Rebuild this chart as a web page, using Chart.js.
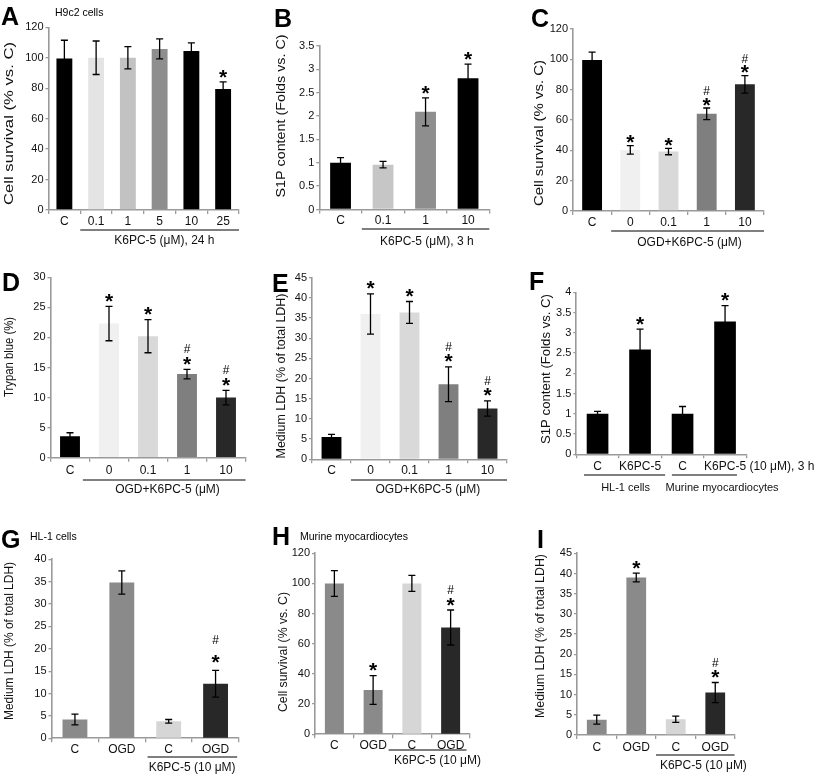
<!DOCTYPE html>
<html><head><meta charset="utf-8">
<script src="https://cdn.jsdelivr.net/npm/chart.js@4.4.1/dist/chart.umd.min.js"></script>
<style>
html,body{margin:0;padding:0;background:#fff;}
#fig{position:relative;width:816px;height:776px;overflow:hidden;background:#fff;font-family:"Liberation Sans",Arial,Helvetica,sans-serif;color:#000;}
#fig canvas{position:absolute;}
.txt{position:absolute;white-space:nowrap;line-height:1;}
</style></head>
<body><div id="fig"></div>
<script>
// ---------- data ----------
const catsA = ['C','0.1','1','5','10','25'];
const meanA = [99.5,100,100,105.8,104.5,79.5];
const errA  = [12,11,7.3,6.6,5.3,4.7];
const starA = [0,0,0,0,0,1];
const hashA = [0,0,0,0,0,0];

const catsB = ['C','0.1','1','10'];
const meanB = [1.0,0.96,2.09,2.81];
const errB  = [0.11,0.07,0.3,0.3];
const starB = [0,0,1,1];
const hashB = [0,0,0,0];

const catsC = ['C','0','0.1','1','10'];
const meanC = [99.5,40.3,39.2,64.1,83.5];
const errC  = [5.3,2.8,2.1,3.8,5.8];
const starC = [0,1,1,1,1];
const hashC = [0,0,0,1,1];

const catsD = ['C','0','0.1','1','10'];
const meanD = [3.55,22.3,20.2,13.9,10.0];
const errD  = [0.6,2.85,2.75,0.8,1.2];
const starD = [0,1,1,1,1];
const hashD = [0,0,0,1,1];

const catsE = ['C','0','0.1','1','10'];
const meanE = [5.5,36.0,36.4,18.6,12.6];
const errE  = [0.7,5.0,2.7,4.3,1.9];
const starE = [0,1,1,1,1];
const hashE = [0,0,0,1,1];

const catsF = ['C','K6PC-5','C','K6PC-5'];
const meanF = [1.0,2.59,1.0,3.28];
const errF  = [0.06,0.5,0.18,0.39];
const starF = [0,1,0,1];
const hashF = [0,0,0,0];

const catsG = ['C','OGD','C','OGD'];
const meanG = [4.2,34.8,3.8,12.2];
const errG  = [1.2,2.6,0.4,3.0];
const starG = [0,0,0,1];
const hashG = [0,0,0,1];

const catsH = ['C','OGD','C','OGD'];
const meanH = [100,29.4,100,70.8];
const errH  = [8.5,9.5,5.3,11.6];
const starH = [0,1,0,1];
const hashH = [0,0,0,1];

const catsI = ['C','OGD','C','OGD'];
const meanI = [3.8,39.0,3.9,10.5];
const errI  = [1.1,1.1,0.75,2.5];
const starI = [0,1,0,1];
const hashI = [0,0,0,1];

// ---------- styling / layout ----------
const FF = '"Liberation Sans", Arial, Helvetica, sans-serif';
const AX = '#9a9a9a';
const TXT = '#111';
const YTICK_FS = 11, XTICK_FS = 12, GROUP_FS = 12;

const panels = [
 {box:[0,0,272,258], area:[48.5,27.3,239,210], yMax:120, yStep:20,
  yTitle:'Cell survival (% vs. C)', title:{x:10, cy:123.5, len:163, fs:12},
  cats:catsA, vals:meanA, errs:errA, stars:starA, hashes:hashA, barPct:0.5, labelDy:11, starGap:8, hashGap:20,
  colors:['#000','#e4e4e4','#c2c2c2','#8e8e8e','#000','#000'],
  groups:[{from:0.5,to:5.5,lineY:230,text:'K6PC-5 (μM), 24 h',at:3.15,textY:241}]},
 {box:[272,0,272,258], area:[319.3,46,489.3,209.5], yMax:3.5, yStep:0.5,
  yTitle:'S1P content (Folds vs. C)', title:{x:282, cy:116, len:163, fs:12},
  cats:catsB, vals:meanB, errs:errB, stars:starB, hashes:hashB, barPct:0.49, labelDy:11.5, starGap:8, hashGap:20,
  colors:['#000','#c6c6c6','#8e8e8e','#000'],
  groups:[{from:0.5,to:3.5,lineY:229,text:'K6PC-5 (μM), 3 h',at:2.03,textY:242}]},
 {box:[528,0,288,258], area:[573,29,764,211], yMax:120, yStep:20,
  yTitle:'Cell survival (% vs. C)', title:{x:540, cy:133, len:146, fs:12},
  cats:catsC, vals:meanC, errs:errC, stars:starC, hashes:hashC, barPct:0.52, labelDy:12, starGap:6.5, hashGap:17.5,
  colors:['#000','#f0f0f0','#d9d9d9','#7f7f7f','#282828'],
  groups:[{from:0.5,to:4.5,lineY:231,text:'OGD+K6PC-5 (μM)',at:2.55,textY:243}]},
 {box:[0,258,272,260], area:[50.5,277.3,245.5,457.7], yMax:30, yStep:5,
  yTitle:'Trypan blue (%)', title:{x:10, cy:357, len:80, fs:12},
  cats:catsD, vals:meanD, errs:errD, stars:starD, hashes:hashD, barPct:0.51, labelDy:13, starGap:8.5, hashGap:20.5,
  colors:['#000','#f0f0f0','#d9d9d9','#7f7f7f','#282828'],
  groups:[{from:0.33,to:4.5,lineY:480,text:'OGD+K6PC-5 (μM)',at:2.5,textY:490}]},
 {box:[272,258,272,260], area:[312,277.7,507,459.3], yMax:45, yStep:5,
  yTitle:'Medium LDH (% of total LDH)', title:{x:282, cy:376, len:165, fs:12},
  cats:catsE, vals:meanE, errs:errE, stars:starE, hashes:hashE, barPct:0.51, labelDy:11.7, starGap:8.5, hashGap:20.5,
  colors:['#000','#f0f0f0','#d9d9d9','#7f7f7f','#282828'],
  groups:[{from:0.5,to:4.5,lineY:480,text:'OGD+K6PC-5 (μM)',at:2.47,textY:490}]},
 {box:[528,258,288,260], area:[576.3,292.3,746.3,454.3], yMax:4, yStep:0.5,
  yTitle:'S1P content (Folds vs. C)', title:{x:547, cy:369, len:150, fs:12},
  cats:catsF, vals:meanF, errs:errF, stars:starF, hashes:hashF, barPct:0.51, labelDy:12.7, starGap:8.5, hashGap:20.5,
  colors:['#000','#000','#000','#000'], suffix:{index:3, text:' (10 μM), 3 h'},
  groups:[{from:-0.32,to:1.59,lineY:475,text:'HL-1 cells',at:0.66,textY:488,fs:11},
          {from:1.75,to:3.28,lineY:475,text:'Murine myocardiocytes',at:2.93,textY:488,fs:11}]},
 {box:[0,518,272,258], area:[51.5,559.3,239,738.3], yMax:40, yStep:5,
  yTitle:'Medium LDH (% of total LDH)', title:{x:10, cy:641, len:158, fs:12},
  cats:catsG, vals:meanG, errs:errG, stars:starG, hashes:hashG, barPct:0.53, labelDy:11.7, starGap:11.5, hashGap:31,
  colors:['#8a8a8a','#8a8a8a','#d6d6d6','#282828'],
  groups:[{from:1.55,to:3.46,lineY:757,text:'K6PC-5 (10 μM)',at:2.5,textY:768}]},
 {box:[272,518,272,258], area:[315,553.3,470,734.3], yMax:120, yStep:20,
  yTitle:'Cell survival (% vs. C)', title:{x:284, cy:652, len:120, fs:12},
  cats:catsH, vals:meanH, errs:errH, stars:starH, hashes:hashH, barPct:0.49, labelDy:10.7, starGap:8.5, hashGap:20.5,
  colors:['#8a8a8a','#8a8a8a','#d6d6d6','#282828'],
  groups:[{from:1.4,to:3.41,lineY:750,text:'K6PC-5 (10 μM)',at:2.66,textY:761}]},
 {box:[528,518,288,258], area:[577,553.3,735,735], yMax:45, yStep:5,
  yTitle:'Medium LDH (% of total LDH)', title:{x:541, cy:636, len:164, fs:12},
  cats:catsI, vals:meanI, errs:errI, stars:starI, hashes:hashI, barPct:0.5, labelDy:13, starGap:8.5, hashGap:20.5,
  colors:['#8a8a8a','#8a8a8a','#d6d6d6','#282828'],
  groups:[{from:1.5,to:3.49,lineY:755,text:'K6PC-5 (10 μM)',at:2.7,textY:766}]}
];

const labels = [
 {t:'A',x:1,b:25,s:25,w:'bold'},{t:'B',x:274,b:27,s:25,w:'bold'},{t:'C',x:531,b:27,s:25,w:'bold'},
 {t:'D',x:2,b:291,s:25,w:'bold'},{t:'E',x:272,b:292,s:25,w:'bold'},{t:'F',x:529,b:290,s:25,w:'bold'},
 {t:'G',x:1,b:548,s:25,w:'bold'},{t:'H',x:272,b:545,s:25,w:'bold'},{t:'I',x:537,b:548,s:25,w:'bold'},
 {t:'H9c2 cells',x:55,b:16,s:10.5,w:'normal'},
 {t:'HL-1 cells',x:30,b:540,s:10.5,w:'normal'},
 {t:'Murine myocardiocytes',x:300,b:540,s:10.5,w:'normal'}
];

function drawGlyph(ctx, ch, font, x, cy){
  ctx.font = font; ctx.textAlign = 'center'; ctx.textBaseline = 'alphabetic';
  const m = ctx.measureText(ch);
  const base = cy + (m.actualBoundingBoxAscent - m.actualBoundingBoxDescent) / 2;
  ctx.fillText(ch, x, base);
}

function makeExtras(p){
  return {
    id:'extras',
    afterDatasetsDraw(chart){
      const ctx = chart.ctx, xs = chart.scales.x, ys = chart.scales.y;
      const meta = chart.getDatasetMeta(0);
      const bl = p.box[0], bt = p.box[1];
      ctx.save();
      ctx.strokeStyle = '#000'; ctx.fillStyle = '#000'; ctx.lineWidth = 1.3;
      meta.data.forEach((bar, i) => {
        const v = p.vals[i], e = p.errs[i];
        const yt = ys.getPixelForValue(v + e), yb = ys.getPixelForValue(v - e), x = bar.x;
        ctx.beginPath();
        ctx.moveTo(x, yt); ctx.lineTo(x, yb);
        ctx.moveTo(x - 3.5, yt); ctx.lineTo(x + 3.5, yt);
        ctx.moveTo(x - 3.5, yb); ctx.lineTo(x + 3.5, yb);
        ctx.stroke();
        if (p.stars[i]) drawGlyph(ctx, '*', 'bold 21px ' + FF, x, yt - p.starGap);
        if (p.hashes[i]) drawGlyph(ctx, '#', '12px ' + FF, x, yt - p.hashGap);
      });
      const x0 = xs.getPixelForValue(0), cw = xs.getPixelForValue(1) - x0;
      const ux = u => x0 + u * cw;
      ctx.lineWidth = 1.2; ctx.strokeStyle = '#000'; ctx.fillStyle = TXT;
      ctx.textAlign = 'center'; ctx.textBaseline = 'middle';
      p.groups.forEach(g => {
        ctx.beginPath();
        ctx.moveTo(ux(g.from), g.lineY - bt); ctx.lineTo(ux(g.to), g.lineY - bt);
        ctx.stroke();
        ctx.font = (g.fs || GROUP_FS) + 'px ' + FF;
        ctx.fillText(g.text, ux(g.at), g.textY - bt);
      });
      if (p.suffix){
        ctx.font = XTICK_FS + 'px ' + FF;
        const lab = p.cats[p.suffix.index];
        const w = ctx.measureText(lab).width;
        ctx.textAlign = 'left';
        ctx.fillText(p.suffix.text, ux(p.suffix.index) + w / 2, p.area[3] + p.labelDy - bt);
      }
      // y-axis title (stretched along its baseline to match the figure)
      const t = p.title;
      ctx.font = t.fs + 'px ' + FF;
      ctx.fillStyle = TXT; ctx.textAlign = 'center'; ctx.textBaseline = 'middle';
      const tw = ctx.measureText(p.yTitle).width;
      ctx.translate(t.x - bl, t.cy - bt);
      ctx.rotate(-Math.PI / 2);
      ctx.scale(t.len / tw, 1);
      ctx.fillText(p.yTitle, 0, 0);
      ctx.restore();
    }
  };
}

const fig = document.getElementById('fig');
panels.forEach(p => {
  const [bl, bt, bw, bh] = p.box;
  const [al, at, ar, ab] = p.area;
  const cv = document.createElement('canvas');
  cv.width = bw; cv.height = bh;
  cv.style.left = bl + 'px'; cv.style.top = bt + 'px';
  cv.style.width = bw + 'px'; cv.style.height = bh + 'px';
  fig.appendChild(cv);
  const yW = al - bl;
  const padT = at - bt;
  const padR = bl + bw - ar;
  const xH = bt + bh - ab;
  const tl = 4;
  const xPad = Math.max(0, p.labelDy - tl - XTICK_FS * 1.2 / 2);
  new Chart(cv, {
    type:'bar',
    data:{labels:p.cats, datasets:[{data:p.vals, backgroundColor:p.colors, borderWidth:0,
      barPercentage:p.barPct, categoryPercentage:1}]},
    options:{
      responsive:false, animation:false, events:[],
      layout:{padding:{left:0, top:padT, right:padR, bottom:0}},
      plugins:{legend:{display:false}, tooltip:{enabled:false}},
      scales:{
        x:{
          offset:true,
          grid:{display:true, drawOnChartArea:false, drawTicks:true, tickLength:tl, color:AX, lineWidth:1.3, offset:true},
          border:{display:true, color:AX, width:1.6},
          ticks:{font:{family:FF, size:XTICK_FS}, color:TXT, padding:xPad, maxRotation:0, minRotation:0, autoSkip:false},
          afterFit:s => { s.height = xH; }
        },
        y:{
          min:0, max:p.yMax,
          grid:{display:true, drawOnChartArea:false, drawTicks:true, tickLength:3, color:AX, lineWidth:1.3},
          border:{display:true, color:AX, width:1.6},
          ticks:{stepSize:p.yStep, font:{family:FF, size:YTICK_FS}, color:TXT, padding:2,
                 callback:v => String(+Number(v).toFixed(2))},
          title:{display:false},
          afterFit:s => { s.width = yW; }
        }
      }
    },
    plugins:[makeExtras(p)]
  });
});

labels.forEach(l => {
  const d = document.createElement('div');
  d.className = 'txt';
  d.textContent = l.t;
  d.style.fontSize = l.s + 'px';
  d.style.fontWeight = l.w;
  d.style.left = l.x + 'px';
  d.style.top = (l.b - 0.8465 * l.s) + 'px';
  fig.appendChild(d);
});
</script>
</body></html>
